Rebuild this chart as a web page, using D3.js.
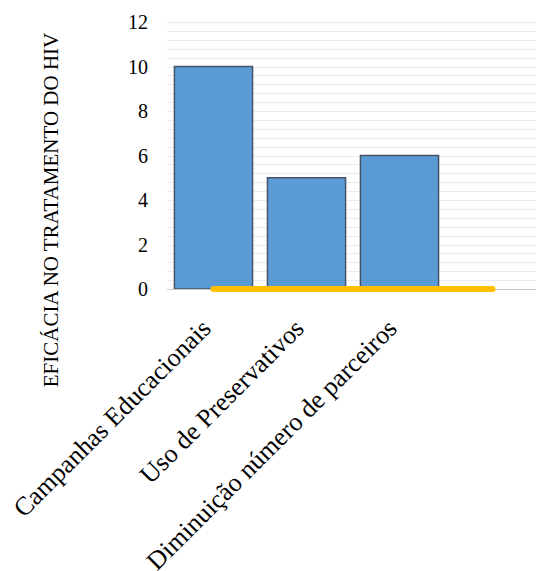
<!DOCTYPE html>
<html>
<head>
<meta charset="utf-8">
<script src="https://cdn.jsdelivr.net/npm/d3@7"></script>
<style>
  html, body { margin: 0; padding: 0; background: #fff; }
  svg { display: block; }
  svg text { font-family: "Times New Roman", serif; fill: #000; }
</style>
</head>
<body>
<svg id="chart" width="536" height="571"></svg>
<script>
const categories = ["Campanhas Educacionais", "Uso de Preservativos", "Diminuição número de parceiros", ""];
const barValues = [10, 5, 6, null];
const lineValues = [0, 0, 0, 0];
const yTicks = [0, 2, 4, 6, 8, 10, 12];
const yTitle = "EFICÁCIA NO TRATAMENTO DO HIV";

const svg = d3.select("#chart");

const x = d3.scaleBand().domain(d3.range(categories.length))
  .range([167, 539]).paddingInner(0.16).paddingOuter(0.08);
const y = d3.scaleLinear().domain([0, 12]).range([289, 22]);

// gridlines (major + minor)
const gridVals = d3.range(0, 12.0001, 0.4).filter(v => v > 0);
svg.append("g").selectAll("line").data(gridVals).join("line")
  .attr("x1", 167).attr("x2", 536)
  .attr("y1", d => Math.round(y(d)) + 0.5).attr("y2", d => Math.round(y(d)) + 0.5)
  .attr("stroke", "#ececec").attr("stroke-width", 1);

// bars
svg.append("g").selectAll("rect").data(barValues.map((v, i) => ({v, i})).filter(d => d.v != null)).join("rect")
  .attr("x", d => x(d.i)).attr("width", x.bandwidth())
  .attr("y", d => y(d.v)).attr("height", d => y(0) - y(d.v))
  .attr("fill", "#5b9bd5").attr("stroke", "#44546a").attr("stroke-width", 1.5);

// baseline
svg.append("line").attr("x1", 167).attr("x2", 536)
  .attr("y1", y(0) + 0.5).attr("y2", y(0) + 0.5)
  .attr("stroke", "#c8c8c8").attr("stroke-width", 1.2);

// line series
const line = d3.line().x((d, i) => x(i) + x.bandwidth() / 2).y(d => y(d));
svg.append("path").datum(lineValues).attr("d", line)
  .attr("fill", "none").attr("stroke", "#ffc000").attr("stroke-width", 6)
  .attr("stroke-linecap", "round");

// y axis tick labels
svg.append("g").selectAll("text").data(yTicks).join("text")
  .attr("x", 148).attr("y", d => y(d)).attr("dy", "0.35em")
  .attr("text-anchor", "end").style("font-size", "20px")
  .text(d => d);

// x labels
svg.append("g").selectAll("text").data(categories).join("text")
  .attr("transform", (d, i) => `translate(${x(i) + x.bandwidth() / 2 - 1},${330}) rotate(-45)`)
  .attr("text-anchor", "end").style("font-size", "26px")
  .text(d => d);

// y title
svg.append("text").attr("transform", "translate(58,210) rotate(-90)")
  .attr("text-anchor", "middle").style("font-size", "21px")
  .text(yTitle);
</script>
</body>
</html>
